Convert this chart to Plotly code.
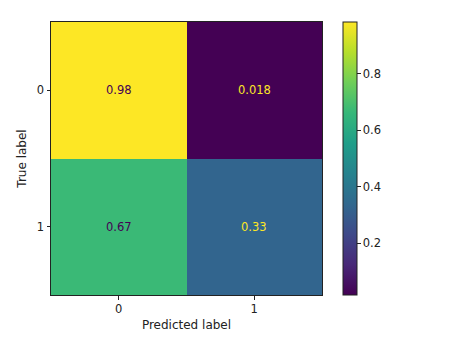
import plotly.graph_objects as go

pred_labels = ["0", "1"]
true_labels = ["0", "1"]
values = [[0.982, 0.018],
          [0.67, 0.33]]
cbar_ticks = [0.2, 0.4, 0.6, 0.8]

VIRIDIS_LO = "#440154"
VIRIDIS_HI = "#fde725"

zmin = min(min(r) for r in values)
zmax = max(max(r) for r in values)
thresh = (zmin + zmax) / 2

fig = go.Figure(go.Heatmap(
    z=values, x=[0, 1], y=[0, 1],
    colorscale="Viridis", zmin=zmin, zmax=zmax,
    xgap=0, ygap=0,
    hoverinfo="skip",
    colorbar=dict(
        x=1.0775, xanchor="left", xpad=0, ypad=0,
        y=1, yanchor="top",
        len=273, lenmode="pixels",
        thickness=14, thicknessmode="pixels",
        outlinecolor="#222", outlinewidth=1,
        tickvals=cbar_ticks, ticktext=[f"{t:.1f}" for t in cbar_ticks],
        ticks="outside", ticklen=3.5, tickcolor="#222",
        tickfont=dict(family="DejaVu Sans", size=11.5, color="#222"),
    ),
))

def fmt(v):
    return f"{v:.2g}"

annotations = []
for i, row in enumerate(values):
    for j, v in enumerate(row):
        annotations.append(dict(
            x=j, y=i, xref="x", yref="y", text=fmt(v), showarrow=False,
            font=dict(family="DejaVu Sans", size=11.5,
                      color=VIRIDIS_LO if v > thresh else VIRIDIS_HI),
        ))

axis_common = dict(
    showline=True, mirror=True, linecolor="#222", linewidth=1,
    ticks="outside", ticklen=3.5, tickcolor="#222",
    showgrid=False, zeroline=False,
    tickfont=dict(family="DejaVu Sans", size=11.5, color="#222"),
)

fig.update_layout(
    width=462, height=355,
    margin=dict(l=51, r=140, t=22, b=60),
    paper_bgcolor="white", plot_bgcolor="white",
    annotations=annotations,
    xaxis=dict(**axis_common, tickvals=[0, 1], ticktext=pred_labels,
               range=[-0.5, 1.5],
               title=dict(text="Predicted label", standoff=5,
                          font=dict(family="DejaVu Sans", size=12, color="#222"))),
    yaxis=dict(**axis_common, tickvals=[0, 1], ticktext=true_labels,
               range=[1.5, -0.5],
               title=dict(text="True label", standoff=7,
                          font=dict(family="DejaVu Sans", size=12, color="#222"))),
)

fig.write_html("out.html")
